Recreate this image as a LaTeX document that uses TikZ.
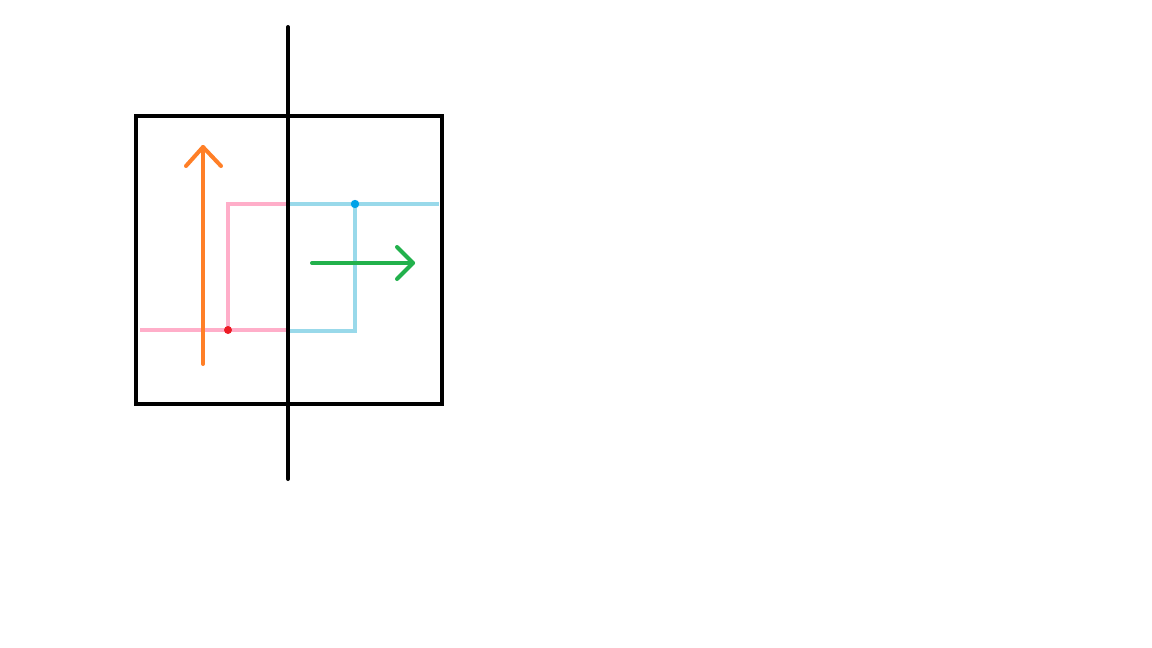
\documentclass[tikz,border=0pt]{standalone}
\definecolor{porange}{HTML}{FF7F27}
\definecolor{ppink}{HTML}{FFAEC9}
\definecolor{pblue}{HTML}{99D9EA}
\definecolor{pgreen}{HTML}{22B14C}
\definecolor{pred}{HTML}{ED1C24}
\definecolor{pdot}{HTML}{00A2E8}
\tikzset{
  blk/.style={line width=4pt, draw=black},
  pinkline/.style={line width=3.5pt, draw=ppink},
  blueline/.style={line width=3.5pt, draw=pblue},
  arr/.style={line width=4pt, line cap=round, line join=round},
}
\begin{document}
\begin{tikzpicture}[x=1pt,y=-1pt]
\useasboundingbox (0,0) rectangle (1152,648);
% coordinates
\coordinate (pA) at (140,330);
\coordinate (pB) at (228,330);
\coordinate (pC) at (228,204);
\coordinate (pD) at (288,204);
\coordinate (pE) at (288,330);
\coordinate (bA) at (439,204);
\coordinate (bB) at (355,204);
\coordinate (bC) at (355,331);
\coordinate (bD) at (288,331);
% pink path
\draw[pinkline] (pA) -- (pB);
\draw[pinkline, line width=4.5pt] (pB) -- (pE);
\draw[pinkline] (pB) -- (pC) -- (pD);
% blue path
\draw[blueline] (pD) -- (bA);
\draw[blueline] (bB) -- (bC) -- (bD);
% dots
\fill[pred] (pB) circle (4);
\fill[pdot] (bB) circle (4.2);
% orange arrow
\coordinate (oS) at (203,364);
\coordinate (oT) at (203,147);
\coordinate (oL) at (186,166);
\coordinate (oR) at (221,166);
\draw[arr, porange] (oS) -- (oT);
\draw[arr, porange] (oL) -- (oT) -- (oR);
% green arrow
\coordinate (gS) at (312,263);
\coordinate (gT) at (413,263);
\coordinate (gU) at (397,247);
\coordinate (gD) at (397,279);
\draw[arr, pgreen] (gS) -- (gT);
\draw[arr, pgreen] (gU) -- (gT) -- (gD);
% box and axis
\draw[blk] (136,116) rectangle (442,404);
\coordinate (vT) at (288,27);
\coordinate (vB) at (288,479);
\draw[blk, line cap=round] (vT) -- (vB);
\end{tikzpicture}
\end{document}
